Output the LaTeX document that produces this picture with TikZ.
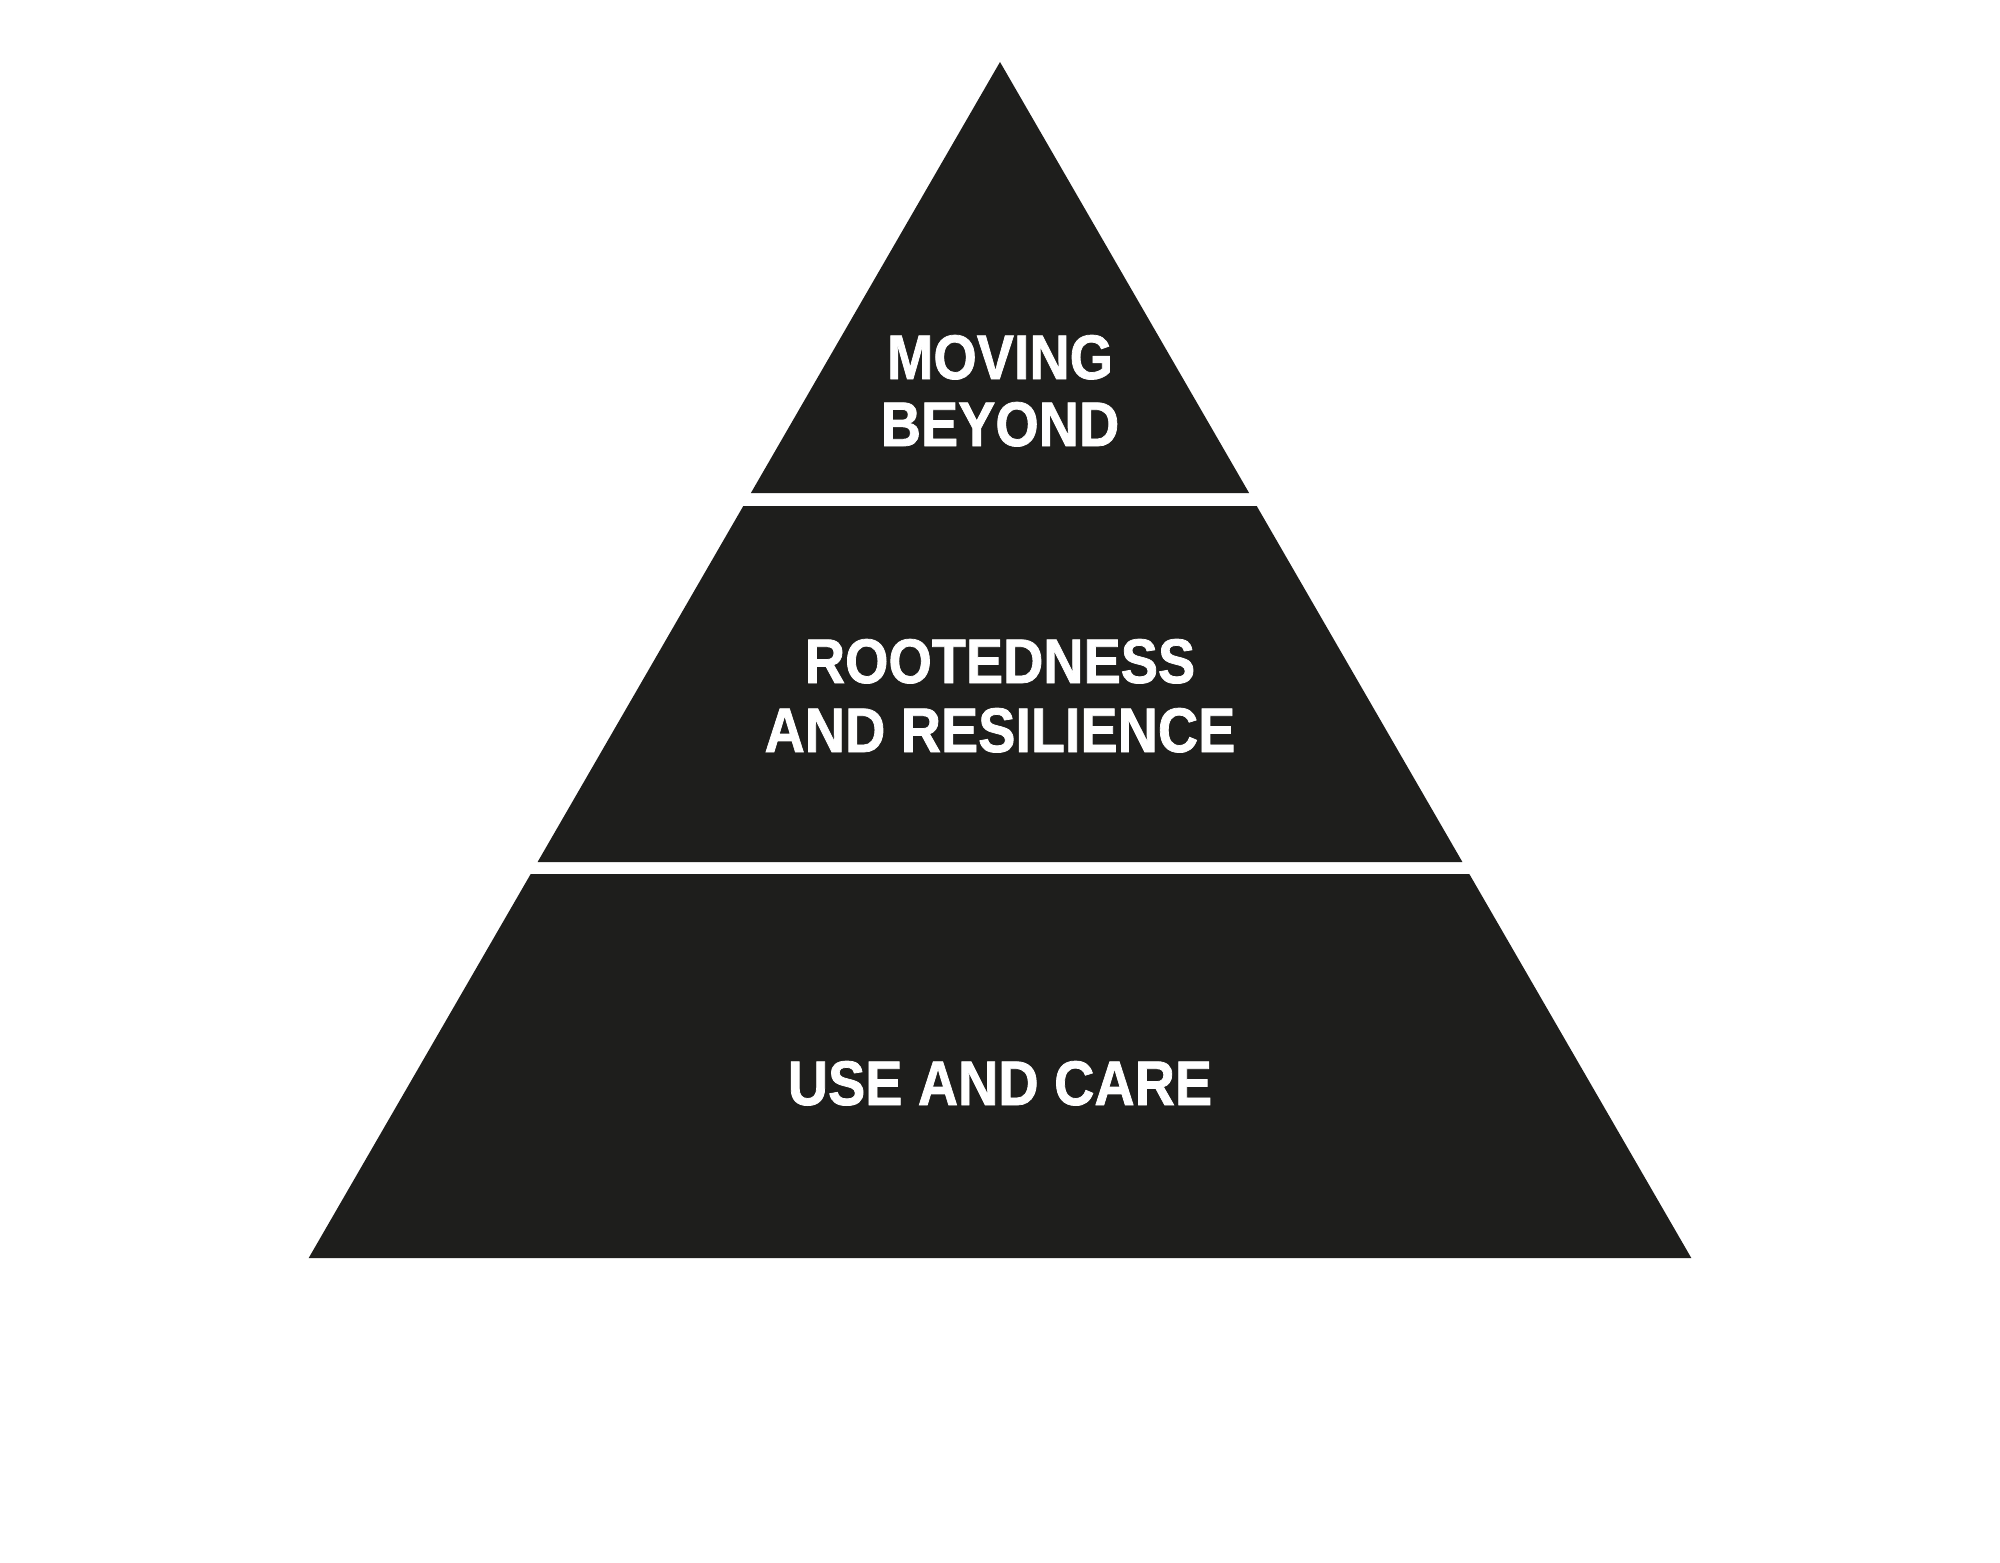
\documentclass[tikz,border=0pt]{standalone}
\usepackage{fontspec}
\newfontfamily\pyrfont[FakeStretch=0.885,FakeBold=1.2]{Liberation Sans Bold}
\definecolor{pyrfill}{RGB}{30,30,28}
\begin{document}
\begin{tikzpicture}[x=1pt,y=-1pt,
  tier/.style={fill=pyrfill,draw=none},
  label/.style={text=white,anchor=base,inner sep=0pt,font=\pyrfont\fontsize{63}{66}\selectfont}]
\useasboundingbox (0,0) rectangle (2000,1563);
\fill[white] (0,0) rectangle (2000,1563);
\path[tier] (1000,62) -- (1249.1,493) -- (750.9,493) -- cycle;
\path[tier] (743.3,506) -- (1256.7,506) -- (1462.4,862) -- (537.6,862) -- cycle;
\path[tier] (530.7,874) -- (1469.3,874) -- (1691.3,1258) -- (308.7,1258) -- cycle;
\node[label] (t1) at (1000,379) {MOVING};
\node[label] (t2) at (1000,446) {BEYOND};
\node[label] (m1) at (1000,683) {ROOTEDNESS};
\node[label] (m2) at (1000,752) {AND RESILIENCE};
\node[label] (b1) at (1000,1105) {USE AND CARE};
\end{tikzpicture}
\end{document}
